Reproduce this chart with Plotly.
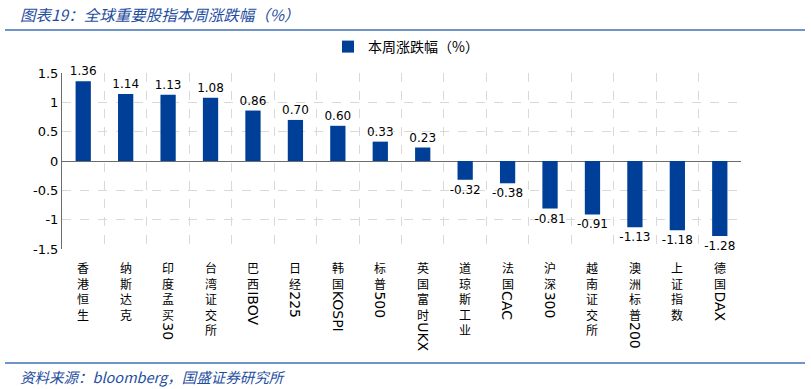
import re
import plotly.graph_objects as go

categories = ["香港恒生", "纳斯达克", "印度孟买30", "台湾证交所", "巴西IBOV", "日经225",
              "韩国KOSPI", "标普500", "英国富时UKX", "道琼斯工业", "法国CAC", "沪深300",
              "越南证交所", "澳洲标普200", "上证指数", "德国DAX"]
values = [1.36, 1.14, 1.13, 1.08, 0.86, 0.70, 0.60, 0.33, 0.23,
          -0.32, -0.38, -0.81, -0.91, -1.13, -1.18, -1.28]
series_name = "本周涨跌幅（%）"
y_ticks = [-1.5, -1, -0.5, 0, 0.5, 1, 1.5]
title_text = "图表19：全球重要股指本周涨跌幅（%）"
source_text = "资料来源：bloomberg，国盛证券研究所"

BAR = "#003f98"
BLUE_TXT = "#1f4e9f"
LINE = "#6f95c8"
CJK = "Noto Sans CJK SC"
LAT = "DejaVu Sans"

W, H = 811, 389
ML, MR, MT, MB = 62, 70, 73, 140
PH = H - MT - MB
PW = W - ML - MR

def py(p):  # pixel y -> paper y
    return (H - MB - p) / PH

def px(p):
    return (p - ML) / PW

fig = go.Figure()
fig.add_trace(go.Bar(
    x=categories, y=values, name=series_name,
    marker=dict(color=BAR, line=dict(width=0)),
    text=[f"{v:.2f}" for v in values], textposition="outside",
    textfont=dict(family=LAT, size=12, color="#000"),
    constraintext="none", cliponaxis=False, width=0.36,
))

CJK_SIZE = 12
PITCH = CJK_SIZE * 1.3
annotations = []
for c in categories:
    m = re.search(r"[A-Za-z0-9]", c)
    cjk = c[:m.start()] if m else c
    lat = c[m.start():] if m else ""
    annotations.append(dict(
        x=c, xref="x", y=0, yref="paper", yanchor="top", xanchor="center",
        yshift=-9, text="<br>".join(cjk), showarrow=False, borderpad=0,
        font=dict(family=CJK, size=CJK_SIZE, color="#000")))
    if lat:
        annotations.append(dict(
            x=c, xref="x", y=0, yref="paper", yanchor="top", xanchor="center",
            yshift=-(9 + len(cjk) * PITCH + 1), text=lat, textangle=90, showarrow=False,
            borderpad=0, font=dict(family=LAT, size=14, color="#000")))

annotations.append(dict(
    x=px(18), y=py(14), xref="paper", yref="paper", xanchor="left", yanchor="middle",
    text=f"<i>{title_text}</i>", showarrow=False,
    font=dict(family=CJK, size=15.5, color=BLUE_TXT)))
annotations.append(dict(
    x=px(18), y=py(376), xref="paper", yref="paper", xanchor="left", yanchor="middle",
    text=f"<i>{source_text}</i>", showarrow=False,
    font=dict(family=CJK, size=14.5, color=BLUE_TXT)))

shapes = [
    dict(type="line", xref="paper", yref="paper", x0=px(5), x1=px(805), y0=py(30), y1=py(30),
         line=dict(color=LINE, width=2)),
    dict(type="line", xref="paper", yref="paper", x0=px(5), x1=px(805), y0=py(363), y1=py(363),
         line=dict(color=LINE, width=2)),
]

fig.update_layout(
    width=W, height=H, margin=dict(l=ML, r=MR, t=MT, b=MB, autoexpand=False),
    paper_bgcolor="white", plot_bgcolor="white",
    showlegend=True,
    legend=dict(orientation="h", x=px(406), xanchor="center", y=py(47), yanchor="middle",
                font=dict(family=CJK, size=14, color="#000"), itemwidth=30),
    annotations=annotations, shapes=shapes,
    xaxis=dict(type="category", tickson="boundaries", showgrid=True,
               gridcolor="#d9d9d9", griddash="dash", gridwidth=1,
               showticklabels=False, ticks="", showline=False, zeroline=False,
               range=[-0.5, len(categories) - 0.5]),
    yaxis=dict(range=[-1.5, 1.5], tickvals=y_ticks, ticktext=[f"{t:g}" for t in y_ticks],
               showgrid=True, gridcolor="#d9d9d9", griddash="dash", gridwidth=1,
               zeroline=True, zerolinecolor="#6b6b6b", zerolinewidth=1,
               showline=True, linecolor="#6b6b6b", linewidth=1,
               ticks="", ticklen=0,
               tickfont=dict(family=LAT, size=13, color="#000")),
    bargap=0.64,
)

fig.write_html("out.html", config={"displayModeBar": False},
               post_script="document.body.style.margin='0';")
